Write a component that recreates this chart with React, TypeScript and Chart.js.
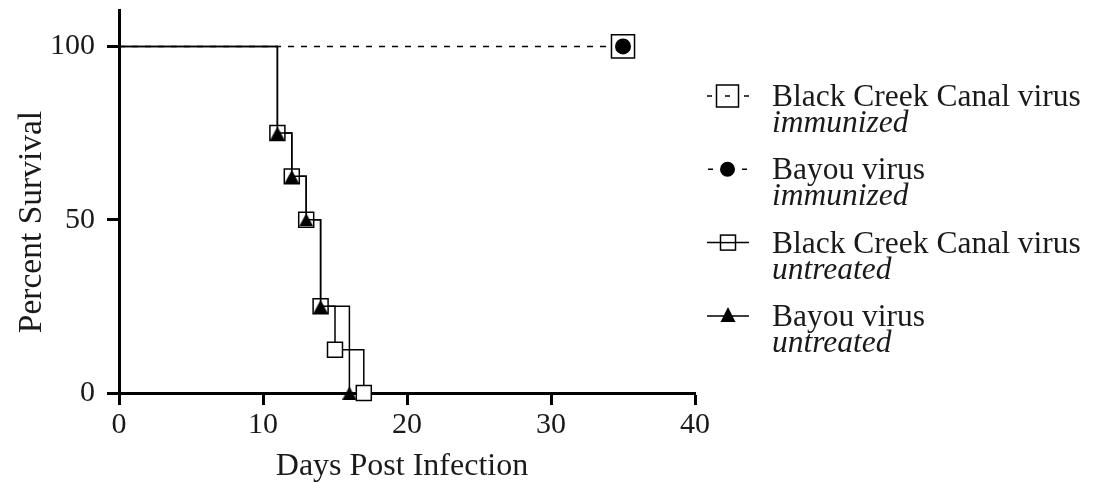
import React, { useEffect, useRef } from "react";
import { Chart, registerables } from "chart.js";

Chart.register(...registerables);

// ---- data ----
const bccUntreatedDays = [0, 11, 12, 13, 14, 15, 17];
const bccUntreatedSurvival = [100, 75, 62.5, 50, 25, 12.5, 0];
const bayouUntreatedDays = [0, 11, 12, 13, 14, 16];
const bayouUntreatedSurvival = [100, 75, 62.5, 50, 25, 0];
const bccImmunizedDays = [0, 35];
const bccImmunizedSurvival = [100, 100];
const bayouImmunizedDays = [0, 35];
const bayouImmunizedSurvival = [100, 100];

const xTicks = [0, 10, 20, 30, 40];
const yTicks = [0, 50, 100];
const xTitle = "Days Post Infection";
const yTitle = "Percent Survival";
const legendMain = ["Black Creek Canal virus", "Bayou virus", "Black Creek Canal virus", "Bayou virus"];
const legendSub = ["immunized", "immunized", "untreated", "untreated"];

const FONT = '"Liberation Serif", "Times New Roman", serif';

function toPoints(xs: number[], ys: number[]) {
  return xs.map((x, i) => ({ x, y: ys[i] }));
}

function makeTriangle(w: number, h: number) {
  const c = document.createElement("canvas");
  c.width = w;
  c.height = h;
  const g = c.getContext("2d")!;
  g.fillStyle = "#000";
  g.beginPath();
  g.moveTo(w / 2, 0);
  g.lineTo(w, h);
  g.lineTo(0, h);
  g.closePath();
  g.fill();
  return c;
}

const zeroPad = () => ({ left: 0, top: 0, right: 0, bottom: 0 });

const overlayPlugin = {
  id: "overlay",
  afterDraw(chart: any) {
    const ctx = chart.ctx as CanvasRenderingContext2D;
    ctx.save();
    ctx.fillStyle = "#1a1a1a";
    ctx.strokeStyle = "#000";
    // axis titles
    ctx.textAlign = "center";
    ctx.textBaseline = "alphabetic";
    ctx.font = `32px ${FONT}`;
    ctx.fillText(xTitle, 402, 475);
    ctx.save();
    ctx.translate(41, 222);
    ctx.rotate(-Math.PI / 2);
    ctx.font = `33.5px ${FONT}`;
    ctx.fillText(yTitle, 0, 0);
    ctx.restore();

    // legend
    const textX = 772;
    for (let i = 0; i < legendMain.length; i++) {
      const base = 106 + i * 73.3;
      const cy = base - 10;
      ctx.lineWidth = 1.5;
      ctx.strokeStyle = "#000";
      ctx.fillStyle = "#000";
      if (i === 0) {
        ctx.beginPath();
        ctx.moveTo(707, cy); ctx.lineTo(712, cy);
        ctx.moveTo(725, cy); ctx.lineTo(730, cy);
        ctx.moveTo(744, cy); ctx.lineTo(749, cy);
        ctx.stroke();
        ctx.strokeRect(716.5, cy - 11, 22, 22);
      } else if (i === 1) {
        ctx.beginPath();
        ctx.moveTo(708, cy); ctx.lineTo(713, cy);
        ctx.moveTo(742, cy); ctx.lineTo(747, cy);
        ctx.stroke();
        ctx.beginPath();
        ctx.arc(727.5, cy, 7.5, 0, Math.PI * 2);
        ctx.fill();
      } else if (i === 2) {
        ctx.beginPath();
        ctx.moveTo(707, cy); ctx.lineTo(749, cy);
        ctx.stroke();
        ctx.fillStyle = "#fff";
        ctx.fillRect(720.5, cy - 7.5, 15, 15);
        ctx.strokeRect(720.5, cy - 7.5, 15, 15);
        ctx.beginPath();
        ctx.moveTo(720.5, cy); ctx.lineTo(735.5, cy);
        ctx.stroke();
      } else {
        ctx.beginPath();
        ctx.moveTo(707, cy); ctx.lineTo(749, cy);
        ctx.stroke();
        ctx.beginPath();
        ctx.moveTo(728, cy - 9);
        ctx.lineTo(735.5, cy + 6);
        ctx.lineTo(720.5, cy + 6);
        ctx.closePath();
        ctx.fill();
      }
      ctx.fillStyle = "#1a1a1a";
      ctx.textAlign = "left";
      ctx.font = `31.5px ${FONT}`;
      ctx.fillText(legendMain[i], textX, base);
      ctx.font = `italic 31.5px ${FONT}`;
      ctx.fillText(legendSub[i], textX, base + 26);
    }
    ctx.restore();
  },
};

export default function App() {
  const ref = useRef<HTMLCanvasElement>(null);
  useEffect(() => {
    const canvas = ref.current!;
    const tri = makeTriangle(14, 13);
    const firstHidden = (r: number) => (c: any) => (c.dataIndex === 0 ? 0 : r);
    const chart = new Chart(canvas, {
      type: "line",
      data: {
        datasets: [
          {
            label: "Bayou virus immunized",
            data: toPoints(bayouImmunizedDays, bayouImmunizedSurvival),
            showLine: false,
            pointStyle: "circle",
            pointRadius: firstHidden(8),
            pointBackgroundColor: "#000",
            pointBorderColor: "#000",
            pointBorderWidth: 0,
            clip: false as any,
          },
          {
            label: "Black Creek Canal virus immunized",
            data: toPoints(bccImmunizedDays, bccImmunizedSurvival),
            borderColor: "#000",
            borderWidth: 1.5,
            borderDash: [6, 7],
            pointStyle: "rect",
            pointRadius: firstHidden(16.3),
            pointBackgroundColor: "#fff",
            pointBorderColor: "#000",
            pointBorderWidth: 1.5,
            clip: false as any,
          },
          {
            label: "Bayou virus untreated",
            data: toPoints(bayouUntreatedDays, bayouUntreatedSurvival),
            stepped: "before",
            borderColor: "#000",
            borderWidth: 1.5,
            pointStyle: tri as any,
            pointRadius: firstHidden(7),
            clip: false as any,
          },
          {
            label: "Black Creek Canal virus untreated",
            data: toPoints(bccUntreatedDays, bccUntreatedSurvival),
            stepped: "before",
            borderColor: "#000",
            borderWidth: 1.5,
            pointStyle: "rect",
            pointRadius: firstHidden(10.6),
            pointBackgroundColor: "#fff",
            pointBorderColor: "#000",
            pointBorderWidth: 1.5,
            clip: false as any,
          },
        ],
      },
      options: {
        animation: false,
        responsive: false,
        events: [],
        layout: { autoPadding: false, padding: { top: 10, right: 406, left: 0, bottom: 0 } },
        plugins: { legend: { display: false }, tooltip: { enabled: false }, title: { display: false } },
        scales: {
          x: {
            type: "linear",
            min: 0,
            max: 40,
            afterBuildTicks: (s: any) => { s.ticks = xTicks.map((v) => ({ value: v })); },
            afterFit: (s: any) => {
              s.height = 89;
              s.paddingLeft = 0; s.paddingRight = 0; s.paddingTop = 0; s.paddingBottom = 0;
              s.getPadding = zeroPad;
            },
            ticks: { font: { family: FONT, size: 30 }, color: "#1a1a1a", padding: 2, maxRotation: 0 },
            grid: { display: true, drawOnChartArea: false, drawTicks: true, tickLength: 12, tickWidth: 3, tickColor: "#000", color: "#000" },
            border: { display: true, color: "#000", width: 3 },
          },
          y: {
            type: "linear",
            min: 0,
            max: 110.5,
            afterBuildTicks: (s: any) => { s.ticks = yTicks.map((v) => ({ value: v })); },
            afterFit: (s: any) => {
              s.width = 119;
              s.paddingLeft = 0; s.paddingRight = 0; s.paddingTop = 0; s.paddingBottom = 0;
              s.getPadding = zeroPad;
            },
            ticks: { font: { family: FONT, size: 30 }, color: "#1a1a1a", padding: 12 },
            grid: { display: true, drawOnChartArea: false, drawTicks: true, tickLength: 12, tickWidth: 3, tickColor: "#000", color: "#000" },
            border: { display: true, color: "#000", width: 3 },
          },
        },
      } as any,
      plugins: [overlayPlugin],
    });
    return () => chart.destroy();
  }, []);
  return (
    <canvas
      ref={ref}
      width={1101}
      height={482}
      style={{ position: "absolute", left: 0, top: 0, background: "#fff" }}
    />
  );
}
